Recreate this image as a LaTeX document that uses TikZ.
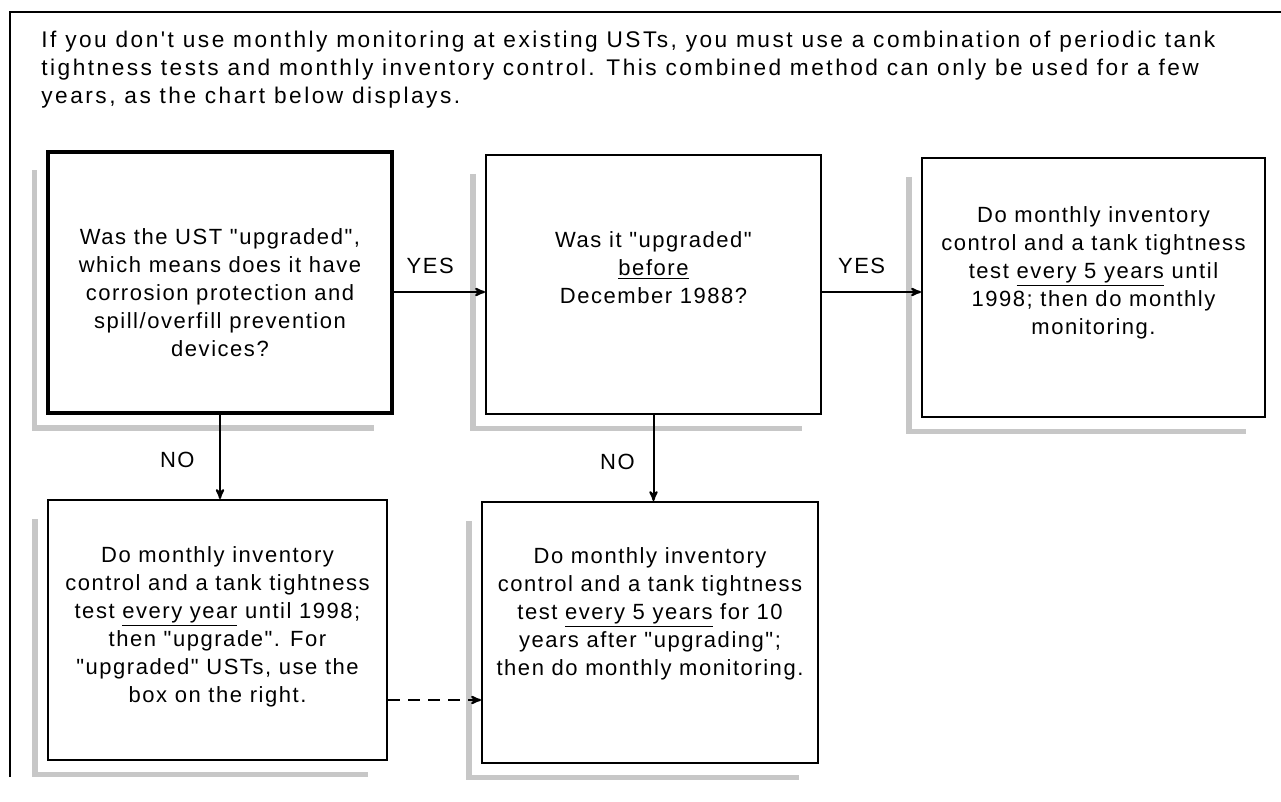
\documentclass[tikz,border=0pt]{standalone}
\usepackage{fontspec}
\setmainfont{Liberation Sans}
\newfontfamily\boxfont[LetterSpace=7]{Liberation Sans}
\newfontfamily\headfont[LetterSpace=11]{Liberation Sans}
\usetikzlibrary{arrows,calc}

% grey hatched strip left of and under a box
\newcommand{\boxshade}[1]{%
  \draw[shade line] ([xshift=-9pt,yshift=-15pt]#1.north west)
    -- ([xshift=-9pt,yshift=-10pt]#1.south west)
    -- ([xshift=-15pt,yshift=-10pt]#1.south east);}

\begin{document}
\begin{tikzpicture}[x=0.75pt,y=-0.75pt,->,>=stealth',line width=1.5pt,
  box node/.style={rectangle,draw,line width=1.5pt,inner sep=0pt},
  text node/.style={align=center,font=\boxfont\fontsize{16.5}{21}\selectfont},
  shade line/.style={-,draw=black!22,line width=4pt}]

\useasboundingbox (0,0) rectangle (1281,802);

\draw[-,line width=1.7pt] (10,777) -- (10,12) -- (1281,12);

\node[anchor=north west,align=left,font=\headfont\fontsize{17}{21}\selectfont](head) at (36,26)
{If you don't use monthly monitoring at existing USTs, you must use a combination of periodic tank\\
tightness tests and monthly inventory control.  This combined method can only be used for a few\\
years, as the chart below displays.};

\node[box node,line width=2.4pt,minimum width=258pt,minimum height=195.75pt](A) at (220,282.5) {};
\node[box node,minimum width=251.25pt,minimum height=194.25pt](B) at (653.5,284.5) {};
\node[box node,minimum width=257.25pt,minimum height=194.25pt](C) at (1093.5,287.5) {};
\node[box node,minimum width=254.25pt,minimum height=195pt](D) at (217.5,630) {};
\node[box node,minimum width=252pt,minimum height=195.75pt](E) at (650,632.5) {};

\boxshade{A}
\boxshade{B}
\boxshade{C}
\boxshade{D}
\boxshade{E}

\node[text node](At) at ($(A)+(0,10.5)$) {Was the UST "upgraded",\\ which means does it have\\
  corrosion protection and\\ spill/overfill prevention\\ devices?};
\node[text node](Bt) at ($(B)+(0,-16.5)$) {Was it "upgraded"\\ \underline{before}\\ December 1988?};
\node[text node](Ct) at ($(C)+(0,-14.5)$) {Do monthly inventory\\ control and a tank tightness\\
  test \underline{every 5 years} until\\ 1998; then do monthly\\ monitoring.};
\node[text node](Dt) at ($(D)+(0,-3)$) {Do monthly inventory\\ control and a tank tightness\\
  test \underline{every year} until 1998;\\ then "upgrade".  For\\ "upgraded" USTs, use the\\ box on the right.};
\node[text node](Et) at ($(E)+(0,-18.5)$) {Do monthly inventory\\ control and a tank tightness\\
  test \underline{every 5 years} for 10\\ years after "upgrading";\\ then do monthly monitoring.};

\coordinate (ab) at ($(A.east)+(0,9.5)$);
\coordinate (bc) at ($(B.east)+(0,7.5)$);
\coordinate (de) at ($(D.east)+(0,70)$);

\path
(ab) edge node[text node,pos=0.4,above=10pt] {YES} (ab -| B.west)
(bc) edge node[text node,pos=0.4,above=10pt] {YES} (bc -| C.west)
(A.south) edge node[text node,pos=0.54,left=15pt] {NO} (A.south |- D.north)
(B.south) edge node[text node,pos=0.55,left=10pt] {NO} (B.south |- E.north)
(de) edge[dash pattern=on 9pt off 6pt] (de -| E.west);

\end{tikzpicture}
\end{document}
